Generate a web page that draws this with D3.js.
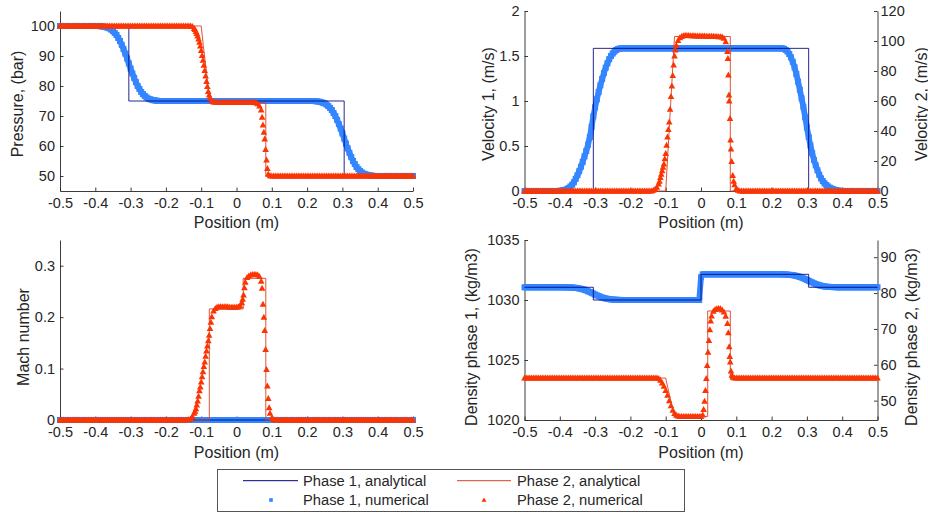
<!DOCTYPE html>
<html><head><meta charset="utf-8">
<script src="https://cdn.jsdelivr.net/npm/d3@7"></script>
<style>body{margin:0;background:#fff}svg{display:block}</style>
</head><body><svg id="c" width="928" height="514"></svg>
<script>
// ---------------- DATA ----------------
// numerical solution: cell centres from -0.5 to 0.5 (step 0.005)
const cellCenters = d3.range(201).map(i => Math.round((-0.5 + i * 0.005) * 1000) / 1000);
const xTickValues = [-0.5,-0.4,-0.3,-0.2,-0.1,0,0.1,0.2,0.3,0.4,0.5];

// Pressure (bar)
const pressure1Num = [
100,100,100,100,100,100,100,100,100,100,
100,100,100,100,100,100,100,100,100,100,
100,100,100,99.9,99.85,99.75,99.6,99.4,99.2,98.8,
98.3,97.7,97.0,96.0,95.0,93.7,92.3,90.8,89.2,87.5,
85.8,84.2,82.7,81.3,80.0,79.0,78.0,77.3,76.7,76.2,
75.8,75.6,75.4,75.25,75.15,75.1,75,75,75,75,
75,75,75,75,75,75,75,75,75,75,
75,75,75,75,75,75,75,75,75,75,
75,75,75,75,75,75,75,75,75,75,
75,75,75,75,75,75,75,75,75,75,
75,75,75,75,75,75,75,75,75,75,
75,75,75,75,75,75,75,75,75,75,
75,75,75,75,75,75,75,75,75,75,
75,75,75,75,75,75,75,75,75,75,
75,75,75,75,75,74.9,74.85,74.75,74.6,74.4,
74.2,73.8,73.3,72.7,72.0,71.0,70.0,68.7,67.3,65.8,
64.2,62.5,60.8,59.2,57.7,56.3,55.0,54.0,53.0,52.3,
51.7,51.2,50.8,50.6,50.4,50.25,50.15,50.1,50,50,
50,50,50,50,50,50,50,50,50,50,
50,50,50,50,50,50,50,50,50,50,
50];
const pressure2Num = [
100,100,100,100,100,100,100,100,100,100,
100,100,100,100,100,100,100,100,100,100,
100,100,100,100,100,100,100,100,100,100,
100,100,100,100,100,100,100,100,100,100,
100,100,100,100,100,100,100,100,100,100,
100,100,100,100,100,100,100,100,100,100,
100,100,100,100,100,100,100,100,100,100,
100,100,100,100,100,99.8,99.2,98.2,96.7,94.6,
91.8,88.6,85.2,81.5,78.2,76.0,75.0,74.7,74.6,74.5,
74.5,74.5,74.5,74.5,74.5,74.5,74.5,74.5,74.5,74.5,
74.5,74.5,74.5,74.5,74.5,74.5,74.5,74.5,74.5,74.5,
74.5,74.4,74.1,73.3,72.0,67.0,62.3,55.3,50.6,50.1,
50,50,50,50,50,50,50,50,50,50,
50,50,50,50,50,50,50,50,50,50,
50,50,50,50,50,50,50,50,50,50,
50,50,50,50,50,50,50,50,50,50,
50,50,50,50,50,50,50,50,50,50,
50,50,50,50,50,50,50,50,50,50,
50,50,50,50,50,50,50,50,50,50,
50,50,50,50,50,50,50,50,50,50,
50];
const pressure2Extra = [[-0.1175,98.8],[-0.1125,97.5],[-0.1075,95.7],[-0.1025,93.3],[-0.0975,90.2],[-0.0925,86.9],[-0.0875,83.3],[-0.0825,79.8],[-0.0775,77.0],[0.0725,69.6],[0.0775,64.6],[0.0825,58.8],[0.0875,52.5]];
const pressure1ExactX = [-0.5,-0.305,-0.305,0.305,0.305,0.5];
const pressure1ExactY = [100,100,75,75,50,50];
const pressure2ExactX = [-0.5,-0.1,-0.094,-0.087,-0.081,-0.075,0.083,0.083,0.5];
const pressure2ExactY = [100,100,93.5,86.5,80.5,74.5,74.5,50,50];

// Velocity (m/s)
const velocity1Num = [
0,0,0,0,0,0,0,0,0,0,
0,0,0,0,0,0,0,0,0,0,
0.002,0.004,0.008,0.013,0.02,0.033,0.05,0.07,0.097,0.135,
0.175,0.22,0.27,0.325,0.385,0.445,0.515,0.6,0.71,0.83,
0.93,1.02,1.1,1.175,1.245,1.31,1.37,1.42,1.465,1.5,
1.528,1.55,1.567,1.578,1.583,1.585,1.585,1.585,1.585,1.585,
1.585,1.585,1.585,1.585,1.585,1.585,1.585,1.585,1.585,1.585,
1.585,1.585,1.585,1.585,1.585,1.585,1.585,1.585,1.585,1.585,
1.585,1.585,1.585,1.585,1.585,1.585,1.585,1.585,1.585,1.585,
1.585,1.585,1.585,1.585,1.585,1.585,1.585,1.585,1.585,1.585,
1.585,1.585,1.585,1.585,1.585,1.585,1.585,1.585,1.585,1.585,
1.585,1.585,1.585,1.585,1.585,1.585,1.585,1.585,1.585,1.585,
1.585,1.585,1.585,1.585,1.585,1.585,1.585,1.585,1.585,1.585,
1.585,1.585,1.585,1.585,1.585,1.585,1.585,1.585,1.585,1.585,
1.585,1.585,1.585,1.585,1.585,1.585,1.585,1.58,1.568,1.55,
1.522,1.485,1.435,1.375,1.30,1.215,1.125,1.03,0.935,0.82,
0.705,0.60,0.505,0.42,0.345,0.285,0.23,0.18,0.14,0.11,
0.085,0.066,0.05,0.037,0.027,0.019,0.012,0.007,0.004,0.002,
0,0,0,0,0,0,0,0,0,0,
0,0,0,0,0,0,0,0,0,0,
0];
const velocity2Num = [
0,0,0,0,0,0,0,0,0,0,
0,0,0,0,0,0,0,0,0,0,
0,0,0,0,0,0,0,0,0,0,
0,0,0,0,0,0,0,0,0,0,
0,0,0,0,0,0,0,0,0,0,
0,0,0,0,0,0,0,0,0,0,
0,0,0,0,0,0,0,0,0,0,
0,0,0,0.5,1.2,2.5,4.6,9,13.5,18,
25,36,46,63,77,90,97,100.3,102.2,103,
103.5,103.6,103.6,103.6,103.5,103.5,103.5,103.4,103.4,103.4,
103.3,103.3,103.3,103.2,103.2,103.2,103.1,103.1,103.0,103.0,
102.9,102.8,102.6,101.8,99.5,93,60,28,10.3,4.2,
1.5,0.5,0,0,0,0,0,0,0,0,
0,0,0,0,0,0,0,0,0,0,
0,0,0,0,0,0,0,0,0,0,
0,0,0,0,0,0,0,0,0,0,
0,0,0,0,0,0,0,0,0,0,
0,0,0,0,0,0,0,0,0,0,
0,0,0,0,0,0,0,0,0,0,
0,0,0,0,0,0,0,0,0,0,
0];
const velocity2Extra = [[-0.1175,6.5],[-0.1125,11.2],[-0.1075,15.8],[-0.1025,21.5],[-0.0975,30.5],[-0.0925,41],[-0.0875,54.5],[-0.0825,70],[-0.0775,84],[-0.0725,94],[0.0762,88.4],[0.0776,77.3],[0.0793,64],[0.0822,48.4],[0.0838,34],[0.0868,19.6],[0.0925,6.5]];
const velocity1ExactX = [-0.5,-0.305,-0.305,0.305,0.305,0.5];
const velocity1ExactY = [0,0,1.585,1.585,0,0];
const velocity2ExactX = [-0.5,-0.1,-0.075,0.083,0.083,0.5];
const velocity2ExactY = [0,0,103,103,0,0];

// Mach number (phase 1 stays at ~0 on this scale)
const mach1Num = [
0,0,0,0,0,0,0,0,0,0,
0,0,0,0,0,0,0,0,0,0,
0,0,0,0,0,0,0,0,0,0,
0,0,0,0,0,0,0,0,0,0,
0,0,0,0,0,0,0,0,0,0,
0,0,0,0,0,0,0,0,0,0,
0,0,0,0,0,0,0,0,0,0,
0,0,0,0,0,0,0,0,0,0,
0,0,0,0,0,0,0,0,0,0,
0,0,0,0,0,0,0,0,0,0,
0,0,0,0,0,0,0,0,0,0,
0,0,0,0,0,0,0,0,0,0,
0,0,0,0,0,0,0,0,0,0,
0,0,0,0,0,0,0,0,0,0,
0,0,0,0,0,0,0,0,0,0,
0,0,0,0,0,0,0,0,0,0,
0,0,0,0,0,0,0,0,0,0,
0,0,0,0,0,0,0,0,0,0,
0,0,0,0,0,0,0,0,0,0,
0,0,0,0,0,0,0,0,0,0,
0];
const mach2Num = [
0,0,0,0,0,0,0,0,0,0,
0,0,0,0,0,0,0,0,0,0,
0,0,0,0,0,0,0,0,0,0,
0,0,0,0,0,0,0,0,0,0,
0,0,0,0,0,0,0,0,0,0,
0,0,0,0,0,0,0,0,0,0,
0,0,0,0,0,0,0,0,0,0,
0,0,0,0.001,0.002,0.007,0.013,0.022,0.037,0.057,
0.074,0.094,0.113,0.134,0.154,0.178,0.201,0.212,0.217,0.219,
0.22,0.22,0.22,0.22,0.22,0.22,0.219,0.219,0.219,0.219,
0.219,0.22,0.222,0.228,0.243,0.268,0.277,0.28,0.282,0.283,
0.283,0.283,0.282,0.279,0.27,0.225,0.174,0.098,0.042,0.013,
0.004,0.001,0,0,0,0,0,0,0,0,
0,0,0,0,0,0,0,0,0,0,
0,0,0,0,0,0,0,0,0,0,
0,0,0,0,0,0,0,0,0,0,
0,0,0,0,0,0,0,0,0,0,
0,0,0,0,0,0,0,0,0,0,
0,0,0,0,0,0,0,0,0,0,
0,0,0,0,0,0,0,0,0,0,
0];
const mach2Extra = [[-0.1175,0.017],[-0.1125,0.029],[-0.1075,0.046],[-0.1025,0.064],[-0.0975,0.084],[-0.0925,0.104],[-0.0875,0.124],[-0.0825,0.144],[-0.0775,0.165],[-0.0725,0.19],[0.0175,0.235],[0.0225,0.257],[0.0725,0.256],[0.0775,0.2],[0.0825,0.137],[0.0875,0.066],[0.0925,0.024]];
const mach1ExactX = [-0.5,0.5];
const mach1ExactY = [0,0];
const mach2ExactX = [-0.5,-0.077,-0.077,0.019,0.019,0.083,0.083,0.5];
const mach2ExactY = [0,0,0.216,0.216,0.2755,0.2755,0,0];

// Density (kg/m3)
const density1Num = [
1031.06,1031.06,1031.06,1031.06,1031.06,1031.06,1031.06,1031.06,1031.06,1031.06,
1031.06,1031.06,1031.06,1031.06,1031.06,1031.06,1031.06,1031.06,1031.06,1031.06,
1031.06,1031.06,1031.06,1031.06,1031.05,1031.05,1031.04,1031.04,1031.03,1031.01,
1030.99,1030.96,1030.93,1030.89,1030.85,1030.79,1030.73,1030.67,1030.6,1030.53,
1030.46,1030.39,1030.33,1030.27,1030.21,1030.17,1030.13,1030.1,1030.07,1030.05,
1030.04,1030.02,1030.02,1030.01,1030.01,1030,1030,1030,1030,1030,
1030,1030,1030,1030,1030,1030,1030,1030,1030,1030,
1030,1030,1030,1030,1030,1030,1030,1030,1030,1030,
1030,1030,1030,1030,1030,1030,1030,1030,1030,1030,
1030,1030,1030,1030,1030,1030,1030,1030,1030,1030,
1031.9,1032.14,1032.14,1032.14,1032.14,1032.14,1032.14,1032.14,1032.14,1032.14,
1032.14,1032.14,1032.14,1032.14,1032.14,1032.14,1032.14,1032.14,1032.14,1032.14,
1032.14,1032.14,1032.14,1032.14,1032.14,1032.14,1032.14,1032.14,1032.14,1032.14,
1032.14,1032.14,1032.14,1032.14,1032.14,1032.14,1032.14,1032.14,1032.14,1032.14,
1032.14,1032.14,1032.14,1032.14,1032.14,1032.14,1032.13,1032.13,1032.12,1032.12,
1032.1,1032.09,1032.07,1032.04,1032.01,1031.97,1031.92,1031.87,1031.81,1031.74,
1031.67,1031.6,1031.53,1031.46,1031.39,1031.33,1031.28,1031.23,1031.19,1031.16,
1031.13,1031.11,1031.1,1031.09,1031.08,1031.07,1031.07,1031.06,1031.06,1031.06,
1031.06,1031.06,1031.06,1031.06,1031.06,1031.06,1031.06,1031.06,1031.06,1031.06,
1031.06,1031.06,1031.06,1031.06,1031.06,1031.06,1031.06,1031.06,1031.06,1031.06,
1031.06];
const density2Num = [
56.3,56.3,56.3,56.3,56.3,56.3,56.3,56.3,56.3,56.3,
56.3,56.3,56.3,56.3,56.3,56.3,56.3,56.3,56.3,56.3,
56.3,56.3,56.3,56.3,56.3,56.3,56.3,56.3,56.3,56.3,
56.3,56.3,56.3,56.3,56.3,56.3,56.3,56.3,56.3,56.3,
56.3,56.3,56.3,56.3,56.3,56.3,56.3,56.3,56.3,56.3,
56.3,56.3,56.3,56.3,56.3,56.3,56.3,56.3,56.3,56.3,
56.3,56.3,56.3,56.3,56.3,56.3,56.3,56.3,56.3,56.3,
56.3,56.3,56.3,56.3,56.3,56.3,56.2,55.7,54.9,54.0,
52.8,51.5,50.0,48.6,47.3,46.4,45.9,45.7,45.6,45.6,
45.6,45.6,45.6,45.6,45.6,45.6,45.6,45.6,45.6,45.6,
45.6,46.0,49.8,56.2,63.5,69.8,73.6,74.9,75.4,75.6,
75.7,75.6,75.3,74.7,73.5,71.5,65.0,58.3,56.5,56.3,
56.3,56.3,56.3,56.3,56.3,56.3,56.3,56.3,56.3,56.3,
56.3,56.3,56.3,56.3,56.3,56.3,56.3,56.3,56.3,56.3,
56.3,56.3,56.3,56.3,56.3,56.3,56.3,56.3,56.3,56.3,
56.3,56.3,56.3,56.3,56.3,56.3,56.3,56.3,56.3,56.3,
56.3,56.3,56.3,56.3,56.3,56.3,56.3,56.3,56.3,56.3,
56.3,56.3,56.3,56.3,56.3,56.3,56.3,56.3,56.3,56.3,
56.3,56.3,56.3,56.3,56.3,56.3,56.3,56.3,56.3,56.3,
56.3,56.3,56.3,56.3,56.3,56.3,56.3,56.3,56.3,56.3,
56.3];
const density2Extra = [[0.0075,47.5],[0.0125,52.8],[0.0175,59.8],[0.0225,66.8],[0.0275,72.2],[0.0775,68.9],[0.0815,62.3],[0.0828,60.8],[0.0875,57.1]];
const density1ExactX = [-0.5,-0.305,-0.305,0,0,0.305,0.305,0.5];
const density1ExactY = [1031.06,1031.06,1030,1030,1032.14,1032.14,1031.06,1031.06];
const density2ExactX = [-0.5,-0.1,-0.094,-0.087,-0.081,-0.075,0.019,0.019,0.083,0.083,0.5];
const density2ExactY = [56.3,56.3,53.6,50.6,48.1,45.6,45.6,75.0,75.0,56.3,56.3];

const legendLabels = ["Phase 1, analytical","Phase 2, analytical","Phase 1, numerical","Phase 2, numerical"];

// ---------------- DRAWING ----------------
const svg = d3.select('#c');
const FONT = '"Liberation Sans", Arial, Helvetica, sans-serif';
const AX = '#262626';
const COL = {blueNum:'#3386ff', blueExact:'#00007f', redNum:'#ff3300', redExact:'#d9421f'};
const TICK_FS = 14.5, LABEL_FS = 16, LEG_FS = 14.7;
const fmt = d => String(d);
const zip = (xs, ys) => xs.map((v, i) => [v, ys[i]]);
const triPath = 'M0,-3.5L3.3,2.5L-3.3,2.5Z';

function styleAxis(a) {
  a.attr('font-family', FONT).attr('font-size', TICK_FS);
  a.select('.domain').attr('stroke', AX).attr('stroke-width', 0.9);
  a.selectAll('.tick line').attr('stroke', AX).attr('stroke-width', 0.9);
  a.selectAll('.tick text').attr('fill', AX);
}

function drawPanel(p) {
  const g = svg.append('g');
  const x = d3.scaleLinear([-0.5, 0.5], [p.left, p.right]);
  const yL = d3.scaleLinear(p.yLeft.domain, [p.bottom, p.top]);
  const yR = p.yRight ? d3.scaleLinear(p.yRight.domain, [p.bottom, p.top]) : yL;

  // axes (drawn beneath data)
  styleAxis(g.append('g').attr('transform', `translate(0,${p.bottom})`)
    .call(d3.axisBottom(x).tickValues(xTickValues).tickFormat(fmt).tickSizeInner(-3.5).tickSizeOuter(0).tickPadding(p.xPad)));
  styleAxis(g.append('g').attr('transform', `translate(${p.left},0)`)
    .call(d3.axisLeft(yL).tickValues(p.yLeft.ticks).tickFormat(fmt).tickSizeInner(-3.5).tickSizeOuter(0).tickPadding(5)));
  if (p.yRight) {
    styleAxis(g.append('g').attr('transform', `translate(${p.right},0)`)
      .call(d3.axisRight(yR).tickValues(p.yRight.ticks).tickFormat(fmt).tickSizeInner(-3.5).tickSizeOuter(0).tickPadding(3)));
  }
  // axis labels
  g.append('text').attr('x', (p.left + p.right) / 2).attr('y', p.xLabelY)
    .attr('text-anchor', 'middle').attr('font-family', FONT).attr('font-size', LABEL_FS).attr('fill', AX).text('Position (m)');
  g.append('text').attr('transform', `translate(${p.yLeft.labelX},${p.labelCY}) rotate(-90)`)
    .attr('text-anchor', 'middle').attr('dominant-baseline', 'central').attr('font-family', FONT).attr('font-size', LABEL_FS).attr('fill', AX).text(p.yLeft.label);
  if (p.yRight) {
    g.append('text').attr('transform', `translate(${p.yRight.labelX},${p.labelCY}) rotate(-90)`)
      .attr('text-anchor', 'middle').attr('dominant-baseline', 'central').attr('font-family', FONT).attr('font-size', LABEL_FS).attr('fill', AX).text(p.yRight.label);
  }

  // phase 1 numerical (dense square markers)
  const b = cellCenters.map((c, i) => [c, p.blueNum[i]]);
  g.append('path').attr('d', d3.line().x(d => x(d[0])).y(d => yL(d[1]))(b))
    .attr('fill', 'none').attr('stroke', COL.blueNum).attr('stroke-width', 5.8).attr('stroke-linejoin', 'round');
  g.append('g').selectAll('rect').data(b).join('rect')
    .attr('x', d => x(d[0]) - 3).attr('y', d => yL(d[1]) - 3).attr('width', 6).attr('height', 6).attr('fill', COL.blueNum);
  // phase 1 analytical
  g.append('path').attr('d', d3.line().x(d => x(d[0])).y(d => yL(d[1]))(zip(p.blueExactX, p.blueExactY)))
    .attr('fill', 'none').attr('stroke', COL.blueExact).attr('stroke-width', 1).attr('stroke-opacity', 0.85);
  // phase 2 numerical (triangles)
  const r = cellCenters.map((c, i) => [c, p.redNum[i]]).concat(p.redExtra).sort((a, b2) => a[0] - b2[0]);
  g.append('g').selectAll('path').data(r).join('path')
    .attr('d', triPath).attr('transform', d => `translate(${x(d[0])},${yR(d[1])})`).attr('fill', COL.redNum);
  // phase 2 analytical
  g.append('path').attr('d', d3.line().x(d => x(d[0])).y(d => yR(d[1]))(zip(p.redExactX, p.redExactY)))
    .attr('fill', 'none').attr('stroke', COL.redExact).attr('stroke-width', 1).attr('stroke-opacity', 0.9);
}

const panels = [
  {left:60, right:413, top:11, bottom:191, xPad:6.5, xLabelY:227.5, labelCY:104,
   yLeft:{domain:[45,105], ticks:[50,60,70,80,90,100], label:'Pressure, (bar)', labelX:17},
   blueNum:pressure1Num, blueExactX:pressure1ExactX, blueExactY:pressure1ExactY,
   redNum:pressure2Num, redExtra:pressure2Extra, redExactX:pressure2ExactX, redExactY:pressure2ExactY},
  {left:524.5, right:877.5, top:11, bottom:191, xPad:6.5, xLabelY:227.5, labelCY:104,
   yLeft:{domain:[0,2], ticks:[0,0.5,1,1.5,2], label:'Velocity 1, (m/s)', labelX:488},
   yRight:{domain:[0,120], ticks:[0,20,40,60,80,100,120], label:'Velocity 2, (m/s)', labelX:921.5},
   blueNum:velocity1Num, blueExactX:velocity1ExactX, blueExactY:velocity1ExactY,
   redNum:velocity2Num, redExtra:velocity2Extra, redExactX:velocity2ExactX, redExactY:velocity2ExactY},
  {left:60, right:413, top:240, bottom:420, xPad:7, xLabelY:457.5, labelCY:337,
   yLeft:{domain:[0,0.35], ticks:[0,0.1,0.2,0.3], label:'Mach number', labelX:23},
   blueNum:mach1Num, blueExactX:mach1ExactX, blueExactY:mach1ExactY,
   redNum:mach2Num, redExtra:mach2Extra, redExactX:mach2ExactX, redExactY:mach2ExactY},
  {left:524.5, right:877.5, top:240, bottom:420, xPad:7, xLabelY:457.5, labelCY:337,
   yLeft:{domain:[1020,1035], ticks:[1020,1025,1030,1035], label:'Density phase 1, (kg/m3)', labelX:471.5},
   yRight:{domain:[44.6,94.8], ticks:[50,60,70,80,90], label:'Density phase 2, (kg/m3)', labelX:911.5},
   blueNum:density1Num, blueExactX:density1ExactX, blueExactY:density1ExactY,
   redNum:density2Num, redExtra:density2Extra, redExactX:density2ExactX, redExactY:density2ExactY}
];
panels.forEach(drawPanel);

// ---------------- LEGEND ----------------
const lg = svg.append('g').attr('font-family', FONT).attr('font-size', LEG_FS).attr('fill', AX);
lg.append('rect').attr('x', 217.5).attr('y', 469.5).attr('width', 467).attr('height', 42)
  .attr('fill', '#fff').attr('stroke', '#555').attr('stroke-width', 1);
const row1 = 480.7, row2 = 500;
lg.append('line').attr('x1', 243).attr('x2', 298).attr('y1', row1).attr('y2', row1).attr('stroke', COL.blueExact).attr('stroke-width', 1);
lg.append('line').attr('x1', 457).attr('x2', 511).attr('y1', row1).attr('y2', row1).attr('stroke', COL.redExact).attr('stroke-width', 1);
lg.append('rect').attr('x', 271 - 1.8).attr('y', row2 - 1.8).attr('width', 3.6).attr('height', 3.6).attr('fill', COL.blueNum);
lg.append('path').attr('d', 'M0,-2.6L2.5,1.8L-2.5,1.8Z').attr('transform', `translate(484,${row2})`).attr('fill', COL.redNum);
[[303,row1,0],[517,row1,1],[303,row2,2],[517,row2,3]].forEach(([tx,ty,k]) => {
  lg.append('text').attr('x', tx).attr('y', ty).attr('dominant-baseline', 'central').attr('fill', AX).text(legendLabels[k]);
});
</script></body></html>
